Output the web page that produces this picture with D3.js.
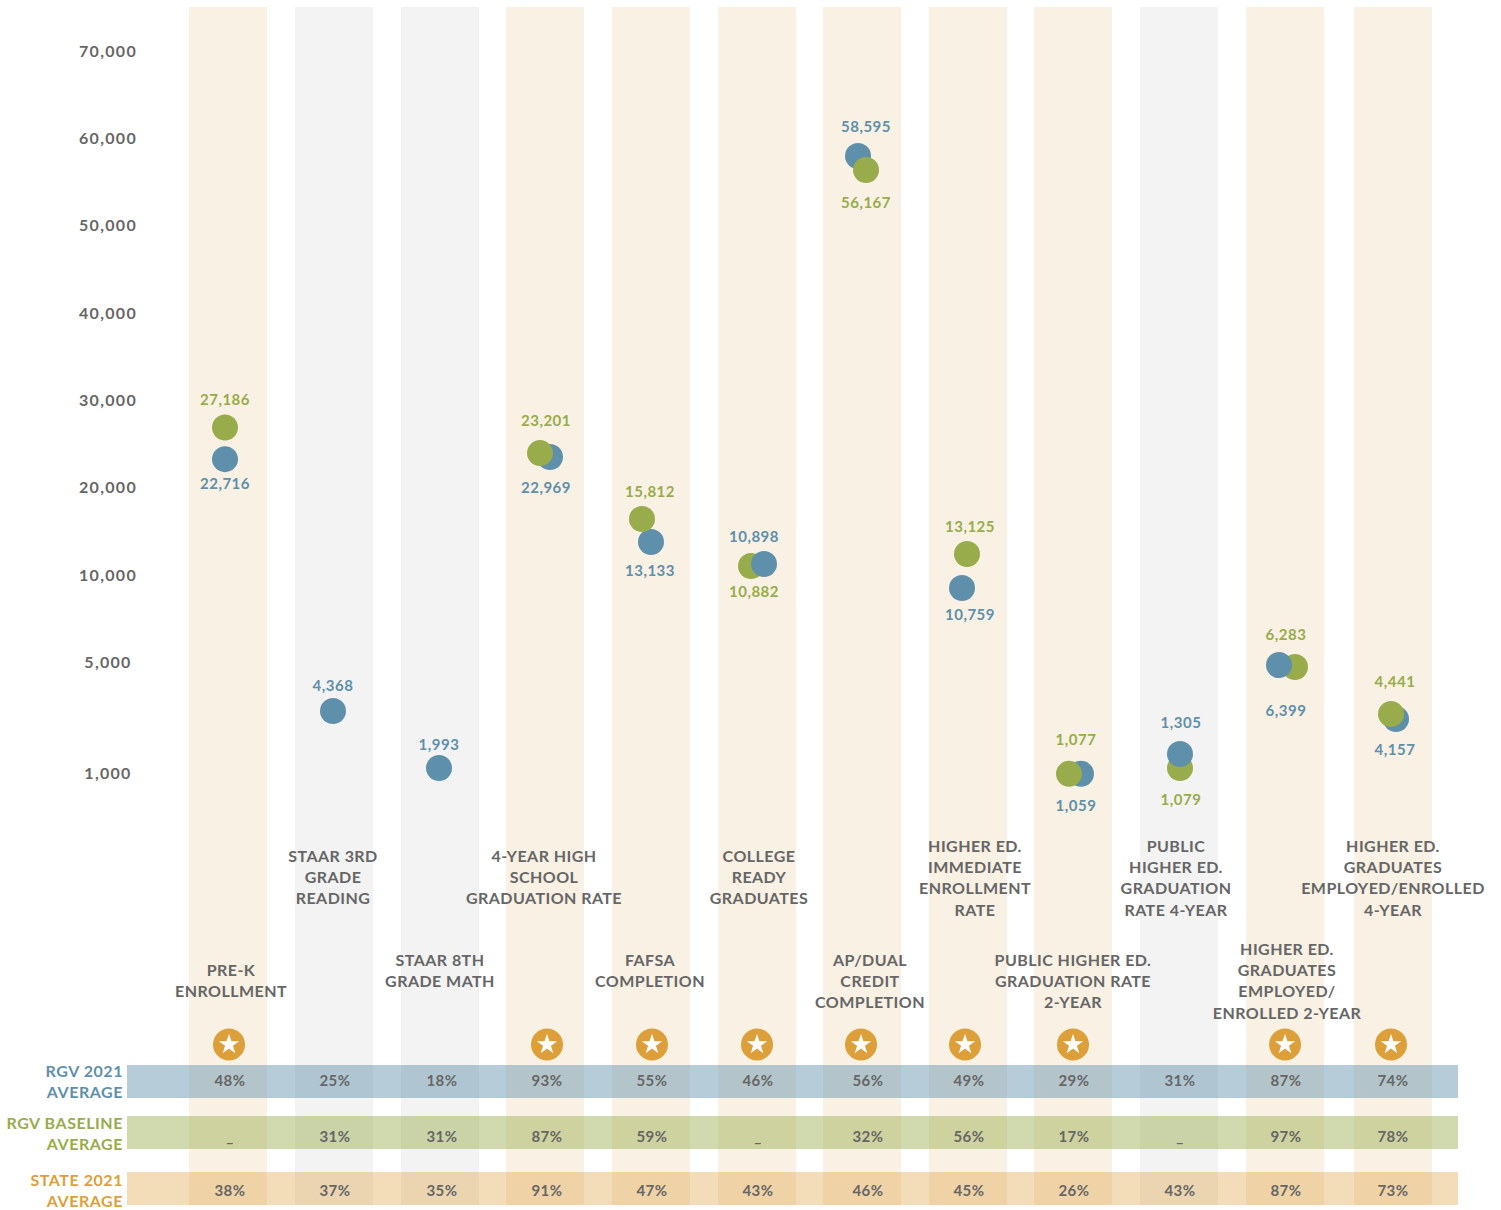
<!DOCTYPE html>
<html>
<head>
<meta charset="utf-8">
<script src="https://cdn.jsdelivr.net/npm/d3@7"></script>
<style>
  html, body { margin: 0; padding: 0; background: #fff; }
  svg { display: block; }
  text { font-family: Lato, "Open Sans", sans-serif; font-weight: 700; }
</style>
</head>
<body>
<div id="chart"></div>
<script>
// data
const categories = [
  ["PRE-K", "ENROLLMENT"],
  ["STAAR 3RD", "GRADE", "READING"],
  ["STAAR 8TH", "GRADE MATH"],
  ["4-YEAR HIGH", "SCHOOL", "GRADUATION RATE"],
  ["FAFSA", "COMPLETION"],
  ["COLLEGE", "READY", "GRADUATES"],
  ["AP/DUAL", "CREDIT", "COMPLETION"],
  ["HIGHER ED.", "IMMEDIATE", "ENROLLMENT", "RATE"],
  ["PUBLIC HIGHER ED.", "GRADUATION RATE", "2-YEAR"],
  ["PUBLIC", "HIGHER ED.", "GRADUATION", "RATE 4-YEAR"],
  ["HIGHER ED.", "GRADUATES", "EMPLOYED/", "ENROLLED 2-YEAR"],
  ["HIGHER ED.", "GRADUATES", "EMPLOYED/ENROLLED", "4-YEAR"]
];

// printed numbers next to the dots
const rgvLabels = ["22,716", "4,368", "1,993", "22,969", "13,133", "10,898", "58,595", "10,759", "1,059", "1,305", "6,399", "4,157"];
const baselineLabels = ["27,186", null, null, "23,201", "15,812", "10,882", "56,167", "13,125", "1,077", "1,079", "6,283", "4,441"];

// where the dots actually sit (they don't land exactly on the printed numbers)
const rgvValues = [23200, 3234, 1180, 23450, 13750, 11250, 57930, 9250, 970, 1685, 4890, 2946];
const baselineValues = [26840, null, null, 23900, 16360, 11020, 56320, 12390, 970, 1180, 4820, 3126];

const yTicks = [1000, 5000, 10000, 20000, 30000, 40000, 50000, 60000, 70000];

const hasStar = [true, false, false, true, true, true, true, true, true, false, true, true];
const isHighlighted = [true, false, false, true, true, true, true, true, true, false, true, true];
const blueOnTop = [false, false, false, false, false, true, false, false, false, true, true, false];

const rowNames = [["RGV 2021", "AVERAGE"], ["RGV BASELINE", "AVERAGE"], ["STATE 2021", "AVERAGE"]];
const rgvAverage = ["48%", "25%", "18%", "93%", "55%", "46%", "56%", "49%", "29%", "31%", "87%", "74%"];
const baselineAverage = ["_", "31%", "31%", "87%", "59%", "_", "32%", "56%", "17%", "_", "97%", "78%"];
const stateAverage = ["38%", "37%", "35%", "91%", "47%", "43%", "46%", "45%", "26%", "43%", "87%", "73%"];

// layout
const width = 1501, height = 1210;
const blue = "#5e90ab", green = "#98ac4b", orange = "#dd9f3a", grey = "#666666";
const columnCenters = [228, 334, 440, 545, 651, 757, 862, 968, 1073, 1179, 1285, 1393];
const columnWidth = 78;
const radius = 13;
const blueDx = [-3, -1, -1, 5, 0, 7, -4, -6, 8, 1, -6, 3];
const greenDx = [-3, 0, 0, -5, -9, -6, 4, -1, -4, 1, 10, -2];
const labelDx = [-3, -1, -1, 1, -1, -3, 4, 2, 3, 2, 1, 2];
const blueLabelDy = [25, -25, -23, 31, 29, -27, -29, 27, 32, -31, 46, 31];
const greenLabelDy = [-28, 0, 0, -32, -27, 26, 33, -27, -34, 32, -32, -32];
const catDx = [3, -1, 0, -1, -1, 2, 8, 7, 0, -3, 2, 0];
const catFirstLine = [970, 856, 960, 856, 960, 856, 960, 846, 960, 846, 949, 846];
const starDx = [1, 0, 0, 2, 1, 0, -1, -3, 0, 0, 0, -2];
const rowValueDx = [2, 1, 2, 2, 1, 1, 6, 1, 1, 1, 1, 0];
const rows = [
  { top: 1065, label: 1071, text: 1081, color: blue, values: rgvAverage, opacity: 0.45 },
  { top: 1116, label: 1123, text: 1137, color: green, values: baselineAverage, opacity: 0.45 },
  { top: 1172, label: 1180, text: 1191, color: orange, values: stateAverage, opacity: 0.36 }
];

const x = d3.scaleOrdinal().domain(d3.range(categories.length)).range(columnCenters);
const y = d3.scaleLinear()
  .domain(yTicks)
  .range([773, 662, 575, 487, 400, 313, 225, 138, 51]);

const svg = d3.select("#chart").append("svg")
  .attr("width", width)
  .attr("height", height)
  .attr("viewBox", `0 0 ${width} ${height}`);

const indices = d3.range(categories.length);

// background columns
svg.append("g").selectAll("rect").data(indices).enter().append("rect")
  .attr("x", (i) => x(i) - columnWidth / 2)
  .attr("y", 7)
  .attr("width", columnWidth)
  .attr("height", 1198)
  .attr("fill", (i) => isHighlighted[i] ? "#f9f1e4" : "#f3f3f3");

// y axis
const axis = svg.append("g")
  .attr("transform", "translate(108,0)")
  .call(d3.axisLeft(y).tickValues(yTicks).tickFormat(d3.format(",")).tickSize(0).tickPadding(0));
axis.select(".domain").remove();
axis.selectAll("text")
  .attr("text-anchor", "middle")
  .attr("x", 0)
  .attr("dy", ".35em")
  .style("font-family", "Lato")
  .style("font-size", "16px")
  .style("letter-spacing", "1.3px")
  .attr("fill", grey);

// category labels
const cats = svg.append("g").selectAll("text").data(indices).enter().append("text")
  .attr("text-anchor", "middle")
  .attr("font-size", 16)
  .attr("letter-spacing", 0.45)
  .attr("fill", grey);
cats.selectAll("tspan").data((i) => categories[i].map((line, n) => ({ line, n, i }))).enter().append("tspan")
  .attr("x", (d) => x(d.i) + catDx[d.i])
  .attr("y", (d) => catFirstLine[d.i] + d.n * 21.3)
  .attr("dy", ".35em")
  .text((d) => d.line);

// dots, whichever one sits on top in the picture goes last
const drawDots = (name, values, dx, color, keep) => {
  svg.append("g").attr("class", name).selectAll("circle")
    .data(indices.filter((i) => values[i] !== null && keep(i))).enter().append("circle")
    .attr("cx", (i) => x(i) + dx[i])
    .attr("cy", (i) => y(values[i]))
    .attr("r", radius)
    .attr("fill", color);
};
drawDots("blue-under", rgvValues, blueDx, blue, (i) => !blueOnTop[i]);
drawDots("green", baselineValues, greenDx, green, () => true);
drawDots("blue-over", rgvValues, blueDx, blue, (i) => blueOnTop[i]);

// dot labels
const drawLabels = (labels, values, dx, dy, color) => {
  svg.append("g").selectAll("text")
    .data(indices.filter((i) => labels[i] !== null)).enter().append("text")
    .attr("x", (i) => x(i) + dx[i])
    .attr("y", (i) => y(values[i]) + dy[i])
    .attr("dy", ".35em")
    .attr("text-anchor", "middle")
    .attr("font-size", 15)
    .attr("letter-spacing", 0.5)
    .attr("fill", color)
    .text((i) => labels[i]);
};
drawLabels(rgvLabels, rgvValues, labelDx, blueLabelDy, blue);
drawLabels(baselineLabels, baselineValues, labelDx, greenLabelDy, green);

// stars
const star = svg.append("g").selectAll("g").data(indices.filter((i) => hasStar[i])).enter().append("g")
  .attr("transform", (i) => `translate(${x(i) + starDx[i]},1044.5)`);
star.append("circle").attr("r", 16).attr("fill", orange);
star.append("path")
  .attr("d", d3.symbol(d3.symbolStar, 130))
  .attr("fill", "#fff");

// average rows
rows.forEach((row, r) => {
  svg.append("rect")
    .attr("x", 127)
    .attr("y", row.top)
    .attr("width", 1331)
    .attr("height", 33)
    .attr("fill", row.color)
    .attr("fill-opacity", row.opacity);

  svg.append("g").selectAll("text").data(rowNames[r]).enter().append("text")
    .attr("x", 123)
    .attr("y", (d, n) => row.label + n * 21)
    .attr("dy", ".35em")
    .attr("text-anchor", "end")
    .attr("font-size", 16)
    .attr("letter-spacing", 0.55)
    .attr("fill", row.color)
    .text((d) => d);

  svg.append("g").selectAll("text").data(indices).enter().append("text")
    .attr("x", (i) => x(i) + rowValueDx[i])
    .attr("y", row.text)
    .attr("dy", ".35em")
    .attr("text-anchor", "middle")
    .attr("font-size", 15)
    .attr("letter-spacing", 0.5)
    .attr("fill", grey)
    .text((i) => row.values[i]);
});
</script>
</body>
</html>
